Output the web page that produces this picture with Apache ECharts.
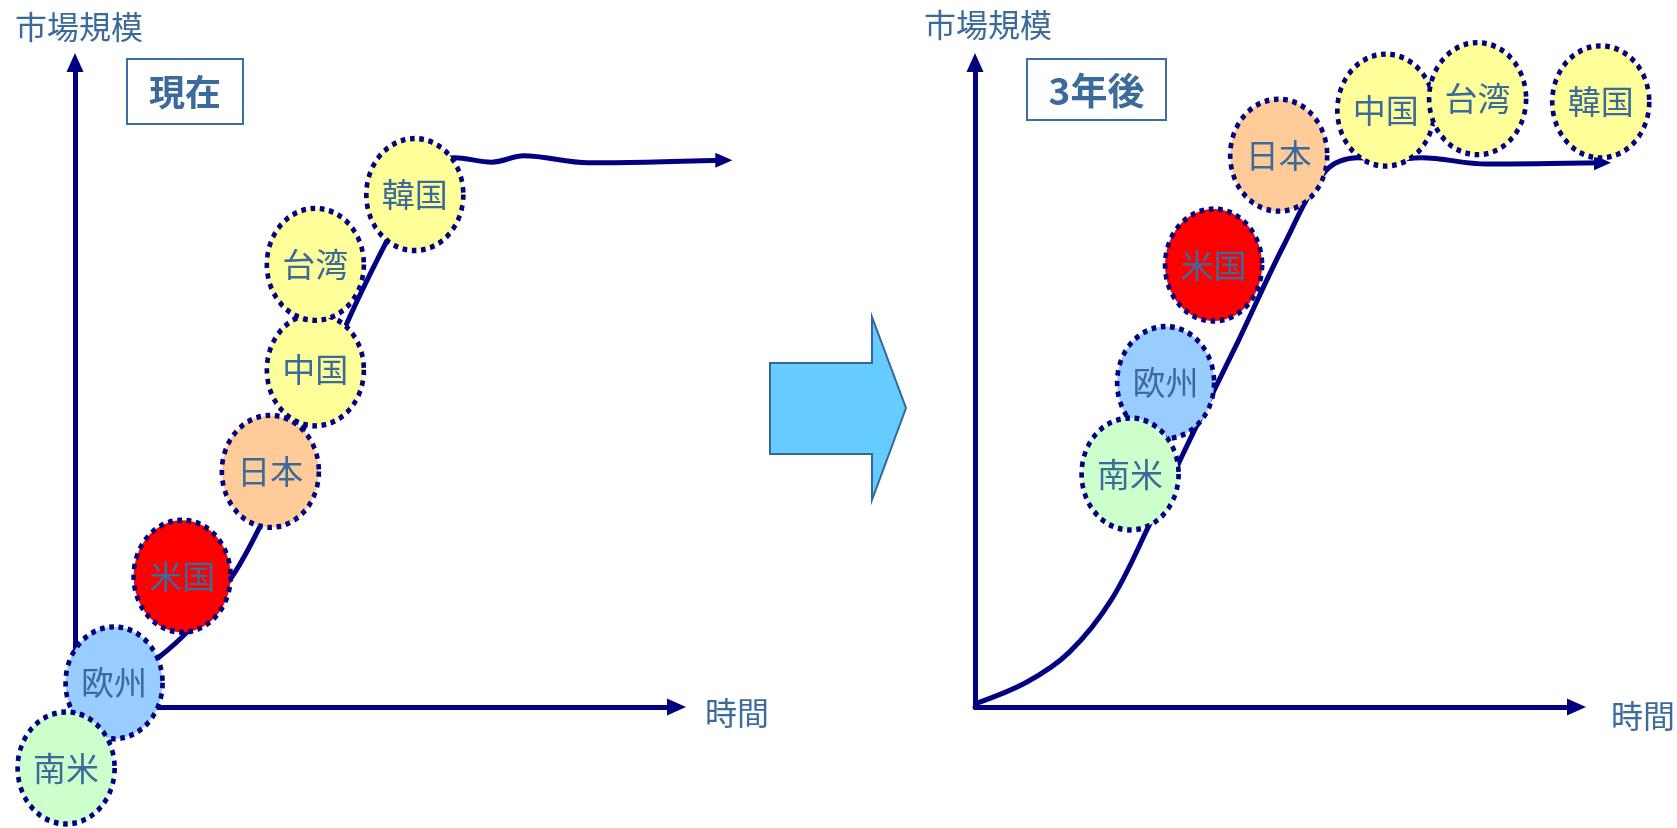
<!DOCTYPE html>
<html>
<head>
<meta charset="utf-8">
<script src="https://cdn.jsdelivr.net/npm/echarts@6/dist/echarts.min.js"></script>
<style>
  html, body { margin: 0; padding: 0; background: #fff; }
  #chart { width: 1677px; height: 828px; }
</style>
</head>
<body>
<div id="chart"></div>
<script>
// Regions (later entries are drawn on top)
const regions = ['欧州', '南米', '米国', '日本', '中国', '台湾', '韓国'];

// Current position of each region on the growth curve (time, market size)
const nowTime = [6.6, -1.5, 18.1, 33.0, 40.6, 40.6, 57.4];
const nowSize = [3.8, -9.6, 20.6, 37.1, 53.1, 69.7, 80.7];

// Position three years later
const laterTime = [32.2, 26.2, 40.3, 51.3, 69.4, 84.9, 105.7];
const laterSize = [51.1, 36.7, 69.6, 86.9, 94.0, 95.8, 95.3];

// Growth curve, current panel
const nowCurveTime = [6.8, 14.0, 18.9, 26.5, 31.6, 36.3, 41.4, 46.1, 52.4, 58.3, 64.2, 70.4, 75.8, 86.7, 109.6];
const nowCurveSize = [2.7, 7.7, 11.8, 20.5, 29.1, 38.9, 49.9, 60.8, 72.9, 83.0, 86.5, 85.8, 86.8, 85.7, 86.1];

// Growth curve, three-years-later panel
const laterCurveTime = [0, 8.7, 15.9, 23.1, 29.5, 36.4, 44.4, 52.1, 59.2, 64.6, 70.0, 75.4, 86.4, 106.0];
const laterCurveSize = [0.5, 3.9, 8.6, 17.0, 28.8, 42.3, 57.5, 72.6, 84.4, 86.5, 86.2, 86.5, 85.5, 85.7];

// Axis captions and panel titles
const yTitle = '市場規模';
const xTitle = '時間';
const panelTitles = ['現在', '3年後'];

const regionColor = {
  '南米': '#CCFFCC',
  '欧州': '#99CCFF',
  '米国': '#FF0000',
  '日本': '#FFCC99',
  '中国': '#FFFF99',
  '台湾': '#FFFF99',
  '韓国': '#FFFF99'
};

const NAVY = '#000080';
const TEXT = '#3B6A9B';
const FONT = '"Noto Sans CJK JP", "Noto Sans", sans-serif';

// Plot frame: the visible axes span 0..100 on both scales; a second,
// larger frame with the same scale carries the marks so they can run past the arrows.
const PANEL_LEFT = [75, 975];
const TOP = 72, W = 592, H = 635;
const EXT = 1.15;   // extension factor of the mark frame

function bubbleData(times, sizes) {
  return regions.map((r, i) => ({
    name: r,
    value: [times[i], sizes[i]],
    itemStyle: { color: regionColor[r] }
  }));
}

function curveData(times, sizes) {
  return times.map((t, i) => {
    const item = { value: [t, sizes[i]] };
    if (i === times.length - 1) {
      item.symbol = 'triangle';
      item.symbolSize = [15, 17];
      item.symbolRotate = -90;
    }
    return item;
  });
}

function visibleAxis(gridIndex) {
  return {
    type: 'value',
    gridIndex: gridIndex,
    min: 0,
    max: 100,
    axisLine: {
      show: true,
      onZero: false,
      symbol: ['none', 'triangle'],
      symbolSize: [17, 19],
      symbolOffset: [0, 9.5],
      lineStyle: { color: NAVY, width: 5 }
    },
    axisTick: { show: false },
    axisLabel: { show: false },
    splitLine: { show: false }
  };
}

function hiddenAxis(gridIndex, min, max) {
  return {
    type: 'value', gridIndex: gridIndex, min: min, max: max, show: false,
    axisLine: { show: false }, axisTick: { show: false },
    axisLabel: { show: false }, splitLine: { show: false }
  };
}

function curveSeries(idx, times, sizes) {
  return {
    type: 'line',
    xAxisIndex: idx,
    yAxisIndex: idx,
    data: curveData(times, sizes),
    smooth: 0.35,
    symbol: 'none',
    showSymbol: true,
    clip: false,
    silent: true,
    z: 2,
    lineStyle: { color: NAVY, width: 5 },
    itemStyle: { color: NAVY }
  };
}

function bubbleSeries(idx, times, sizes) {
  return {
    type: 'scatter',
    xAxisIndex: idx,
    yAxisIndex: idx,
    data: bubbleData(times, sizes),
    symbol: 'circle',
    symbolSize: [97, 112],
    clip: false,
    silent: true,
    z: 3,
    itemStyle: {
      borderColor: NAVY,
      borderWidth: 5,
      borderType: [5, 5],
      opacity: 1
    },
    label: {
      show: true,
      position: 'inside',
      formatter: '{b}',
      color: TEXT,
      fontSize: 33,
      fontFamily: FONT
    }
  };
}

function textEl(str, x, y, size, weight) {
  return {
    type: 'text',
    x: x, y: y,
    style: {
      text: str,
      fill: TEXT,
      font: (weight || 'normal') + ' ' + size + 'px ' + FONT,
      verticalAlign: 'middle'
    }
  };
}

function titleBox(str, x, y, w, h, size) {
  return {
    type: 'group',
    children: [
      { type: 'rect', shape: { x: x, y: y, width: w, height: h },
        style: { fill: '#fff', stroke: '#3E6FA3', lineWidth: 2 } },
      { type: 'text', x: x + w / 2, y: y + h / 2 + 1,
        style: { text: str, fill: TEXT, font: 'bold ' + size + 'px ' + FONT,
                 align: 'center', verticalAlign: 'middle' } }
    ]
  };
}

// mark frames: x 0..100*EXT, y (100 - 100*EXT)..100, same pixel scale as the axes
const markGrid = (left) => ({
  left: left, top: TOP, width: W * EXT, height: H * EXT, outerBoundsMode: 'none'
});

const chart = echarts.init(document.getElementById('chart'), null, { renderer: 'canvas' });

chart.setOption({
  animation: false,
  backgroundColor: '#ffffff',
  grid: [
    { left: PANEL_LEFT[0], top: TOP, width: W, height: H, outerBoundsMode: 'none' },
    { left: PANEL_LEFT[1], top: TOP, width: W, height: H, outerBoundsMode: 'none' },
    markGrid(PANEL_LEFT[0]),
    markGrid(PANEL_LEFT[1])
  ],
  xAxis: [visibleAxis(0), visibleAxis(1),
          hiddenAxis(2, 0, 100 * EXT), hiddenAxis(3, 0, 100 * EXT)],
  yAxis: [visibleAxis(0), visibleAxis(1),
          hiddenAxis(2, 100 - 100 * EXT, 100), hiddenAxis(3, 100 - 100 * EXT, 100)],
  series: [
    curveSeries(2, nowCurveTime, nowCurveSize),
    bubbleSeries(2, nowTime, nowSize),
    curveSeries(3, laterCurveTime, laterCurveSize),
    bubbleSeries(3, laterTime, laterSize)
  ],
  graphic: [
    textEl(yTitle, 15, 27, 32),
    textEl(yTitle, 924, 25, 32),
    textEl(xTitle, 705, 713, 32),
    textEl(xTitle, 1611, 716, 32),
    titleBox(panelTitles[0], 127, 59, 116, 65, 36),
    titleBox(panelTitles[1], 1027, 59, 139, 61, 37),
    {
      type: 'polygon',
      shape: {
        points: [[770, 363], [872, 363], [872, 317], [906, 408], [872, 500], [872, 454], [770, 454]]
      },
      style: { fill: '#66CCFF', stroke: '#33669E', lineWidth: 2 },
      z: 1
    }
  ]
});
</script>
</body>
</html>
